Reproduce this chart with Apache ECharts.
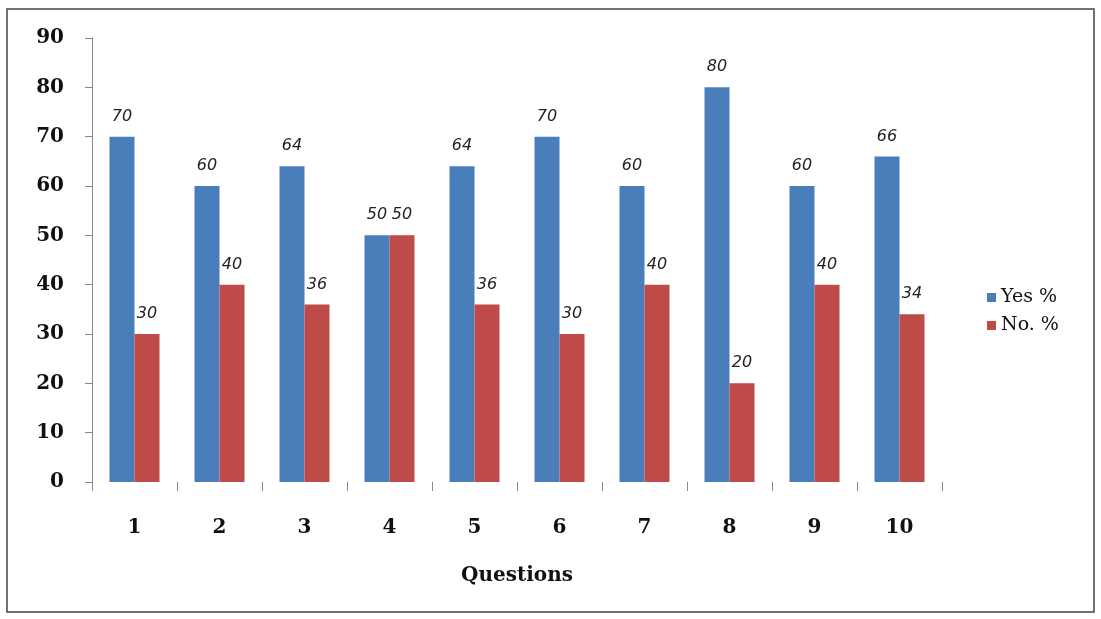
<!DOCTYPE html>
<html>
<head>
<meta charset="utf-8">
<script src="https://cdn.jsdelivr.net/npm/echarts@6/dist/echarts.min.js"></script>
<style>
html,body{margin:0;padding:0;background:#fff;}
#c{width:1101px;height:619px;}
</style>
</head>
<body>
<div id="c"></div>
<script>
const categories = ['1','2','3','4','5','6','7','8','9','10'];
const yesValues = [70, 60, 64, 50, 64, 70, 60, 80, 60, 66];
const noValues = [30, 40, 36, 50, 36, 30, 40, 20, 40, 34];
const seriesNames = ['Yes %', 'No. %'];
const yTicks = {min: 0, max: 90, interval: 10};
const xAxisTitle = 'Questions';

const chart = echarts.init(document.getElementById('c'), null, {renderer: 'canvas'});
const labelStyle = {
  show: true,
  position: 'top',
  distance: 12,
  fontFamily: 'DejaVu Sans',
  fontStyle: 'italic',
  fontSize: 16,
  color: '#222'
};
chart.setOption({
  backgroundColor: '#fff',
  animation: false,
  graphic: [{
    type: 'rect',
    shape: {x: 7, y: 9, width: 1087, height: 603},
    style: {fill: 'none', stroke: '#444', lineWidth: 1.5},
    silent: true,
    z: -1
  }],
  grid: {left: 92, right: 159, top: 38, bottom: 137, containLabel: false},
  legend: {
    orient: 'vertical',
    left: 982,
    top: 283,
    itemWidth: 9,
    itemHeight: 9,
    itemGap: 9,
    icon: 'rect',
    textStyle: {fontFamily: 'DejaVu Serif', fontSize: 19, color: '#111'},
    data: seriesNames
  },
  xAxis: {
    type: 'category',
    data: categories,
    name: xAxisTitle,
    nameLocation: 'middle',
    nameGap: 84,
    nameTextStyle: {fontFamily: 'DejaVu Serif', fontWeight: 'bold', fontSize: 20, color: '#111'},
    axisLine: {show: false},
    axisTick: {show: true, length: 9, lineStyle: {color: '#888'}},
    axisLabel: {margin: 36, fontFamily: 'DejaVu Serif', fontWeight: 'bold', fontSize: 20, color: '#111'}
  },
  yAxis: {
    type: 'value',
    min: yTicks.min,
    max: yTicks.max,
    interval: yTicks.interval,
    axisLine: {show: true, lineStyle: {color: '#888'}},
    axisTick: {show: true, length: 7, lineStyle: {color: '#888'}},
    splitLine: {show: false},
    axisLabel: {margin: 28, fontFamily: 'DejaVu Serif', fontWeight: 'bold', fontSize: 20, color: '#111'}
  },
  series: [
    {name: seriesNames[0], type: 'bar', data: yesValues, barWidth: 25, barGap: '0%',
     itemStyle: {color: '#4A7EBB'}, label: labelStyle},
    {name: seriesNames[1], type: 'bar', data: noValues, barWidth: 25, barGap: '0%',
     itemStyle: {color: '#BE4B48'}, label: labelStyle}
  ]
});
</script>
</body>
</html>
